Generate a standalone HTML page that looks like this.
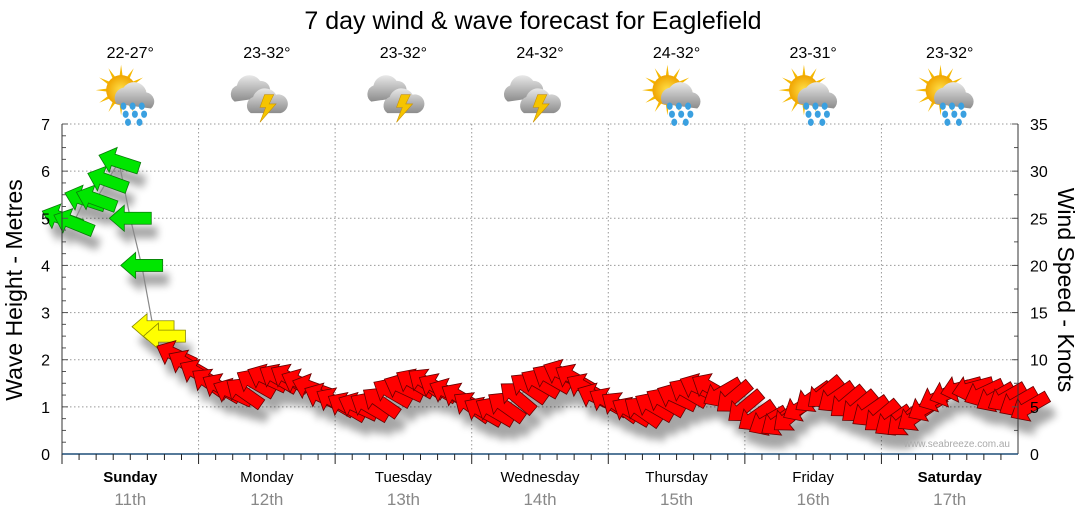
<!DOCTYPE html>
<html><head><meta charset="utf-8">
<style>
body{margin:0;background:#fff;}
svg{display:block;font-family:"Liberation Sans",sans-serif;}
</style></head>
<body>
<svg id="chart" width="1080" height="522" viewBox="0 0 1080 522" xmlns="http://www.w3.org/2000/svg">
<defs>
<filter id="sh" x="-50%" y="-50%" width="200%" height="200%"><feGaussianBlur stdDeviation="4"/></filter>
<radialGradient id="sun" cx="50%" cy="50%" r="50%"><stop offset="0" stop-color="#ffe14a"/><stop offset="1" stop-color="#f0a400"/></radialGradient>
<linearGradient id="cloud" x1="0" y1="0" x2="0" y2="1"><stop offset="0" stop-color="#e8e8e8"/><stop offset="1" stop-color="#8c8c8c"/></linearGradient>
</defs>
<text x="533" y="29" font-size="25" text-anchor="middle">7 day wind &amp; wave forecast for Eaglefield</text>
<g id="grid"></g>
<g id="shadows" filter="url(#sh)" opacity="0.35"></g>
<polyline id="windline" fill="none" stroke="#888" stroke-width="1.2"/>
<g id="arrows"></g>
<g id="axes"></g>
<g id="days"></g>
<text transform="translate(22,290) rotate(-90)" font-size="23" text-anchor="middle">Wave Height - Metres</text>
<text transform="translate(1058,290) rotate(90)" font-size="23" text-anchor="middle">Wind Speed - Knots</text>
<text x="1010" y="447" font-size="10" fill="#aaa" text-anchor="end">www.seabreeze.com.au</text>
</svg>
<script>
const dayNames=["Sunday","Monday","Tuesday","Wednesday","Thursday","Friday","Saturday"];
const dayDates=["11th","12th","13th","14th","15th","16th","17th"];
const temps=["22-27°","23-32°","23-32°","24-32°","24-32°","23-31°","23-32°"];
const icons=["sunrain","storm","storm","storm","sunrain","sunrain","sunrain"];
const waveTicks=[0,1,2,3,4,5,6,7];
const windTicks=[0,5,10,15,20,25,30,35];
// wind speed in knots, every 2 hours starting Sunday 00:00
const windSpeed=[25,24.5,27,27,29,31,25,20,13.5,12.5,10.5,9.5,8.5,7.5,7,6.5,6.5,7.5,8,8,8,7.5,7,6,5.5,5,5,5,5.5,6.5,7,7.5,7.5,7,6.5,6,5,4.5,4.5,5,6,7,7.5,8,8.5,8,7,6,5.5,5,4.5,4.5,5,5.5,6,6.5,7,7,6.5,6,5,4,3.5,3.5,4,5,6,6.5,6,5.5,5,4.5,4,3.5,3.5,4,5,6,6.5,7,7,6.5,6,6,5.5,5];
// arrow rotation degrees (positive = tip rotated upward)
const windDir=[20,22,18,20,20,18,0,0,0,0,25,30,30,35,30,25,35,30,25,30,30,25,20,25,30,30,25,30,35,30,25,30,35,30,25,30,35,30,30,35,40,35,30,30,25,30,30,25,30,35,30,35,30,30,25,30,25,30,-30,-40,-40,-35,-30,-35,-40,-30,-35,-40,-35,-40,-40,-35,-40,-35,-40,-35,-30,-25,-20,-15,-15,-25,-30,-30,-30,-30,-30];
const X0=62,X1=1018,Y0=454,YT=124,HOURS=168,STEP=2;
const xs=h=>X0+(X1-X0)*h/HOURS;
const yWave=m=>Y0-(Y0-YT)*m/7;
const yWind=k=>Y0-(Y0-YT)*k/35;
const NS="http://www.w3.org/2000/svg";
function mk(tag,attrs,parent){const e=document.createElementNS(NS,tag);for(const k in attrs)e.setAttribute(k,attrs[k]);parent.appendChild(e);return e;}
const grid=document.getElementById('grid'),axes=document.getElementById('axes'),days=document.getElementById('days');
waveTicks.forEach(v=>{
  if(v>0){const l=mk('line',{x1:X0,x2:X1,y1:yWave(v),y2:yWave(v),stroke:'#999','stroke-dasharray':'1.5,2.5'},grid);
  
  }
  const t=mk('text',{x:50,y:yWave(v)+6,'font-size':16,'text-anchor':'end'},axes);t.textContent=v;
  
  
});
for(let m=0;m<=7;m+=0.25){mk('line',{x1:X0,x2:X0+(m%1===0?6:4),y1:yWave(m),y2:yWave(m),stroke:'#555'},axes);}
windTicks.forEach(v=>{
  const t=mk('text',{x:1030,y:yWind(v)+6,'font-size':16},axes);t.textContent=v;
  
  
});
for(let k=0;k<=35;k+=2.5){mk('line',{x1:X1,x2:X1-(k%5===0?6:4),y1:yWind(k),y2:yWind(k),stroke:'#555'},axes);}
mk('line',{x1:X0,x2:X0,y1:YT,y2:Y0,stroke:'#333'},axes);
mk('line',{x1:X1,x2:X1,y1:YT,y2:Y0,stroke:'#333'},axes);
mk('line',{x1:X0,x2:X1,y1:Y0,y2:Y0,stroke:'#1f4e79','stroke-width':1.5},axes);
for(let d=0;d<7;d++){
  if(d>0){const l=mk('line',{x1:xs(d*24),x2:xs(d*24),y1:YT,y2:Y0,stroke:'#999','stroke-dasharray':'1.5,2.5'},grid);
  
  }
  for(let h=0;h<24;h+=3){mk('line',{x1:xs(d*24+h),x2:xs(d*24+h),y1:Y0,y2:Y0+(h===0?10:6),stroke:'#222'},axes);}
  const cx=xs(d*24+12);
  const n=mk('text',{x:cx,y:482,'font-size':15,'text-anchor':'middle','font-weight':(d===0||d===6)?'bold':'normal'},days);n.textContent=dayNames[d];
  
  
  const dt=mk('text',{x:cx,y:505,'font-size':17,'text-anchor':'middle',fill:'#888'},days);dt.textContent=dayDates[d];
  
  
  const tt=mk('text',{x:cx,y:58,'font-size':16,'text-anchor':'middle'},days);tt.textContent=temps[d];
  
  
  const g=mk('g',{transform:`translate(${cx},97) scale(1.15)`},days);
  
  
  if(icons[d]==='sunrain'){
    for(let a=0;a<360;a+=30){mk('polygon',{points:'-3,0 3,0 0,-22',fill:'#f5b800',transform:`translate(-8,-6) rotate(${a})`},g);}
    mk('circle',{cx:-8,cy:-6,r:13,fill:'url(#sun)'},g);
    mk('path',{d:'M-12,6 a9,9 0 0 1 6,-14 a11,11 0 0 1 20,4 a8,8 0 0 1 4,14 z',fill:'url(#cloud)'},g);
    [[-6,8],[2,8],[10,8],[-4,15],[4,15],[12,15],[-2,22],[8,22]].forEach(p=>mk('ellipse',{cx:p[0],cy:p[1],rx:2.6,ry:3.2,fill:'#3aa0e0'},g));
  }else{
    mk('path',{d:'M-28,4 a8,8 0 0 1 2,-14 a11,11 0 0 1 20,-4 a8,8 0 0 1 6,14 z',fill:'url(#cloud)'},g);
    mk('path',{d:'M-14,14 a8,8 0 0 1 2,-14 a11,11 0 0 1 20,-2 a8,8 0 0 1 4,16 z',fill:'url(#cloud)'},g);
    mk('polygon',{points:'-2,-2 6,-2 2,6 8,6 -6,22 -1,9 -6,9',fill:'#f5c400',stroke:'#c89000','stroke-width':0.5},g);
  }
}
// arrows
const shadows=document.getElementById('shadows'),arrows=document.getElementById('arrows');
const shape='M-21,0 L-6,-13 L-6,-6 L21,-6 L21,6 L-6,6 L-6,13 Z';
let pts=[];
windSpeed.forEach((k,i)=>{
  const x=xs(i*STEP),y=yWind(k);pts.push(x.toFixed(1)+','+y.toFixed(1));
  const r=windDir[i]===undefined?-30:windDir[i];
  const s=mk('path',{d:shape,fill:'#000',transform:`translate(${x+6},${y+14}) rotate(${r})`},shadows);
  
  
});
document.getElementById('windline').setAttribute('points',pts.join(' '));
windSpeed.forEach((k,i)=>{
  const x=xs(i*STEP),y=yWind(k);
  const r=windDir[i]===undefined?-30:windDir[i];
  const col=k>=15?'#00e600':(k>=11?'#ffff00':'#ff0000');
  const st=k>=15?'#0a7a0a':(k>=11?'#8a8a00':'#600');
  const a=mk('path',{d:shape,fill:col,stroke:st,'stroke-width':0.8,transform:`translate(${x},${y}) rotate(${r})`},arrows);
  
  
});
</script>
</body></html>
